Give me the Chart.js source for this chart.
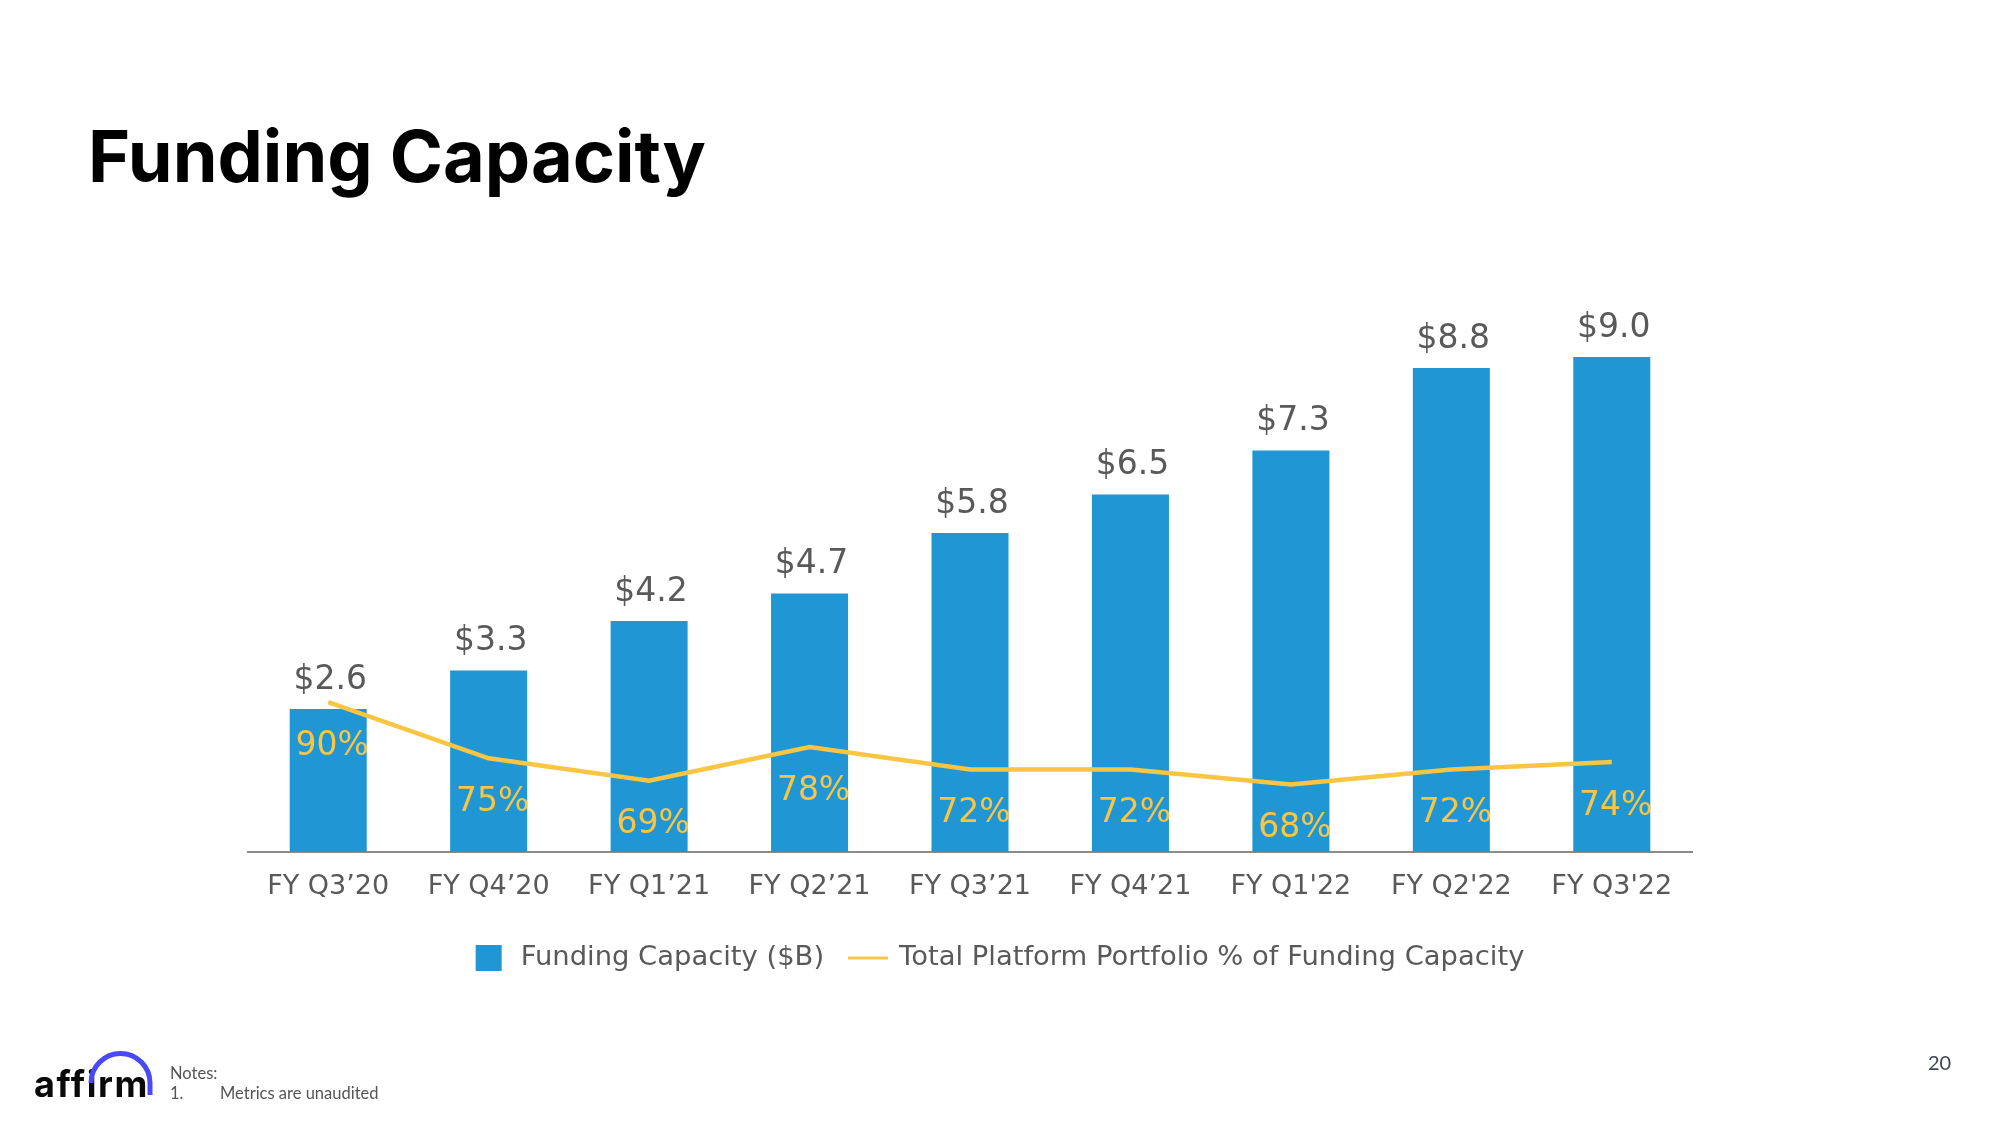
<!DOCTYPE html>
<html><head><meta charset="utf-8">
<script src="https://cdn.jsdelivr.net/npm/chart.js@4.4.1/dist/chart.umd.min.js"></script>
<style>
html,body{margin:0;padding:0;background:#fff;width:2000px;height:1125px;overflow:hidden;}
#wrap{position:relative;width:2000px;height:1125px;}
#c{position:absolute;left:0;top:0;}
.t{position:absolute;white-space:nowrap;line-height:1;}
</style></head><body>
<div id="wrap">
<canvas id="c" width="2000" height="1125"></canvas>
<div class="t" style="left:88px;top:120px;font-family:Inter;font-weight:700;font-size:72px;color:#000;">Funding Capacity</div>
<div class="t" style="left:34px;top:1066px;font-family:Inter;font-weight:700;font-size:36px;color:#0a0a0a;letter-spacing:1.5px;">affirm</div>
<svg style="position:absolute;left:0;top:0;" width="200" height="1125" viewBox="0 0 200 1125">
  <path d="M 91 1083 A 29.5 29.5 0 0 1 150 1083 L 150 1095" fill="none" stroke="#4a4af4" stroke-width="5"/>
</svg>
<div class="t" style="left:170px;top:1065px;font-family:Lato;font-size:16.5px;color:#555;">Notes:</div>
<div class="t" style="left:170px;top:1085px;font-family:Lato;font-size:16.5px;color:#555;">1.</div>
<div class="t" style="left:220px;top:1085px;font-family:Lato;font-size:16.5px;color:#555;">Metrics are unaudited</div>
<div class="t" style="left:1928px;top:1052px;font-family:Lato;font-size:20px;color:#3f4757;">20</div>
</div>
<script>
const categories = ['FY Q3\u201920','FY Q4\u201920','FY Q1\u201921','FY Q2\u201921','FY Q3\u201921','FY Q4\u201921',"FY Q1'22","FY Q2'22","FY Q3'22"];
const fundingCapacity = [2.6, 3.3, 4.2, 4.7, 5.8, 6.5, 7.3, 8.8, 9.0];
const platformPct = [90, 75, 69, 78, 72, 72, 68, 72, 74];
const seriesNames = ['Funding Capacity ($B)', 'Total Platform Portfolio % of Funding Capacity'];

const BLUE = '#2196d4';
const YELLOW = '#f9c542';
const GREY = '#595959';
const FONT = '"DejaVu Sans", Verdana, sans-serif';

const valueLabels = {
  id: 'valueLabels',
  afterDatasetsDraw(chart) {
    const ctx = chart.ctx;
    ctx.save();
    ctx.font = '33px ' + FONT;
    ctx.textAlign = 'center';
    ctx.textBaseline = 'middle';
    ctx.fillStyle = GREY;
    chart.getDatasetMeta(0).data.forEach((el, i) => {
      ctx.fillText('$' + fundingCapacity[i].toFixed(1), el.x + 2, el.y - 29);
    });
    ctx.fillStyle = YELLOW;
    chart.getDatasetMeta(1).data.forEach((el, i) => {
      ctx.fillText(platformPct[i] + '%', el.x + 4, el.y + 44);
    });
    ctx.restore();
  }
};

const customLegend = {
  id: 'customLegend',
  afterDraw(chart) {
    const ctx = chart.ctx;
    ctx.save();
    ctx.font = '27.4px ' + FONT;
    ctx.textBaseline = 'middle';
    ctx.textAlign = 'left';
    const ds = chart.data.datasets;
    const w1 = ctx.measureText(ds[0].label).width;
    const w2 = ctx.measureText(ds[1].label).width;
    const total = 26 + 19 + w1 + 24 + 40 + 11 + w2;
    let x = chart.width / 2 - total / 2;
    const y = 958;
    ctx.fillStyle = ds[0].backgroundColor;
    ctx.fillRect(x, y - 13, 26, 26);
    x += 26 + 19;
    ctx.fillStyle = GREY;
    ctx.fillText(ds[0].label, x, y);
    x += w1 + 24;
    ctx.strokeStyle = ds[1].borderColor;
    ctx.lineWidth = 3;
    ctx.beginPath();
    ctx.moveTo(x, y);
    ctx.lineTo(x + 40, y);
    ctx.stroke();
    x += 40 + 11;
    ctx.fillStyle = GREY;
    ctx.fillText(ds[1].label, x, y);
    ctx.restore();
  }
};

new Chart(document.getElementById('c'), {
  type: 'bar',
  data: {
    labels: categories,
    datasets: [
      {
        type: 'bar',
        label: seriesNames[0],
        data: fundingCapacity,
        backgroundColor: BLUE,
        barPercentage: 0.48,
        categoryPercentage: 1.0,
        yAxisID: 'y',
        order: 1
      },
      {
        type: 'line',
        label: seriesNames[1],
        data: platformPct,
        borderColor: YELLOW,
        backgroundColor: YELLOW,
        borderWidth: 4.5,
        pointRadius: 0,
        tension: 0,
        yAxisID: 'y2',
        order: 0
      }
    ]
  },
  options: {
    responsive: false,
    animation: false,
    devicePixelRatio: 1,
    layout: { padding: { left: 248, right: 308, top: 302, bottom: 213 } },
    plugins: { legend: { display: false }, tooltip: { enabled: false }, title: { display: false } },
    scales: {
      x: {
        grid: { display: false, drawTicks: false },
        border: { display: true, color: '#8c8c8c', width: 2 },
        ticks: { color: GREY, font: { family: FONT, size: 27 }, padding: 19, maxRotation: 0, autoSkip: false },
        afterFit(scale) { scale.height = 60; }
      },
      y: { display: false, min: 0, max: 10 },
      y2: { display: false, min: 50, max: 196.7, position: 'right' }
    }
  },
  plugins: [valueLabels, customLegend]
});
</script>
</body></html>
